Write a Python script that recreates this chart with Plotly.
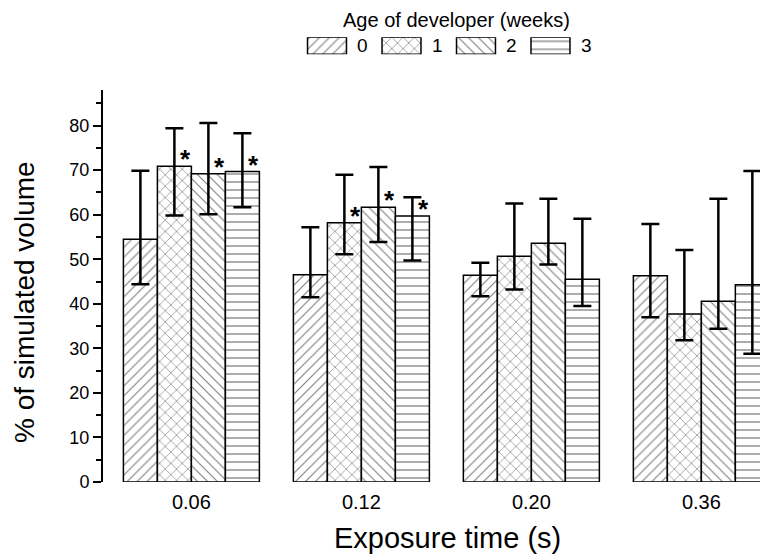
import plotly.graph_objects as go

# ---- data ----
exposure = ["0.06", "0.12", "0.20", "0.36"]
ages = ["0", "1", "2", "3"]
values = {
    "0": [54.5, 46.5, 46.4, 46.3],
    "1": [70.9, 58.2, 50.7, 37.7],
    "2": [69.2, 61.7, 53.6, 40.6],
    "3": [69.7, 59.7, 45.5, 44.3],
}
err_hi = {
    "0": [69.9, 57.2, 49.2, 57.9],
    "1": [79.4, 69.0, 62.5, 52.1],
    "2": [80.6, 70.7, 63.6, 63.6],
    "3": [78.3, 63.9, 59.1, 69.8],
}
err_lo = {
    "0": [44.4, 41.5, 41.7, 37.0],
    "1": [59.8, 51.1, 43.2, 31.8],
    "2": [60.1, 53.9, 48.8, 34.4],
    "3": [61.7, 49.7, 39.5, 28.8],
}
signif = {
    "0": [False, False, False, False],
    "1": [True, True, False, False],
    "2": [True, True, False, False],
    "3": [True, True, False, False],
}
patterns = {"0": "/", "1": "x", "2": "\\", "3": "-"}
psize = {"0": 7, "1": 8, "2": 7, "3": 8}
y_ticks = [0, 10, 20, 30, 40, 50, 60, 70, 80]

FONT = "Liberation Sans, Arial, sans-serif"
xpos = list(range(len(exposure)))
nser = len(ages)
bargap = 0.2
bw = (1 - bargap) / nser


def pat(a):
    return dict(shape=patterns[a], fgcolor="black", bgcolor="white",
                size=psize[a], solidity=0.16)


fig = go.Figure()
annotations = []
for j, a in enumerate(ages):
    v = values[a]
    fig.add_trace(go.Bar(
        x=xpos, y=v, name=a, showlegend=False,
        marker=dict(color="white", line=dict(color="black", width=1.5),
                    pattern=pat(a)),
        error_y=dict(type="data", symmetric=False,
                     array=[h - m for h, m in zip(err_hi[a], v)],
                     arrayminus=[m - l for m, l in zip(v, err_lo[a])],
                     color="black", thickness=2.5, width=9),
        xaxis="x", yaxis="y",
    ))
    for i, s in enumerate(signif[a]):
        if s:
            annotations.append(dict(
                x=i + (j - (nser - 1) / 2) * bw, y=v[i], xref="x", yref="y",
                text="<b>*</b>", showarrow=False, xshift=11, yshift=-10,
                font=dict(family=FONT, size=26, color="black"),
                xanchor="center", yanchor="bottom"))
    # legend swatch drawn as a bar on its own small axes
    fig.add_trace(go.Bar(
        x=[j], y=[1], width=0.523, showlegend=False, hoverinfo="skip",
        marker=dict(color="white", line=dict(color="black", width=1.5),
                    pattern=pat(a)),
        xaxis="x2", yaxis="y2",
    ))
    annotations.append(dict(
        x=j + 0.48, y=0.5, xref="x2", yref="y2", text=a, showarrow=False,
        font=dict(family=FONT, size=19, color="black"),
        xanchor="center", yanchor="middle"))

annotations.append(dict(
    x=0.5384, y=0.9585, xref="paper", yref="paper",
    text="Age of developer (weeks)", showarrow=False,
    font=dict(family=FONT, size=20, color="black"),
    xanchor="center", yanchor="middle"))
annotations.append(dict(
    x=-0.1202, y=0.3734, xref="paper", yref="paper",
    text="% of simulated volume", textangle=-90, showarrow=False,
    font=dict(family=FONT, size=28, color="black"),
    xanchor="center", yanchor="middle"))
annotations.append(dict(
    x=0.525, y=-0.116, xref="paper", yref="paper",
    text="Exposure time (s)", showarrow=False,
    font=dict(family=FONT, size=29, color="black"),
    xanchor="center", yanchor="middle"))

fig.update_layout(
    width=760, height=554,
    margin=dict(l=103, r=0, t=0, b=72),
    paper_bgcolor="white", plot_bgcolor="white",
    barmode="group", bargap=bargap, bargroupgap=0,
    font=dict(family=FONT, size=16, color="black"),
    xaxis=dict(range=[-0.52, 3.345], tickvals=xpos, ticktext=exposure,
               showline=False, showgrid=False, zeroline=False,
               ticks="outside", ticklen=2, tickcolor="rgba(0,0,0,0)",
               tickfont=dict(family=FONT, size=20), anchor="y"),
    yaxis=dict(range=[0, 88], domain=[0, 392 / 482], tickvals=y_ticks,
               showline=True, linecolor="black", linewidth=2,
               showgrid=False, zeroline=False,
               ticks="outside", ticklen=8, tickwidth=2, tickcolor="black",
               minor=dict(dtick=5, ticks="outside", ticklen=5, tickwidth=2,
                          tickcolor="black", showgrid=False),
               tickfont=dict(family=FONT, size=18), anchor="x"),
    xaxis2=dict(domain=[0.2846, 0.7412], range=[-0.497, 3.53], visible=False,
                anchor="y2"),
    yaxis2=dict(domain=[0.8873, 0.9226], range=[0, 1], visible=False,
                anchor="x2"),
    annotations=annotations,
)

fig.write_html("out.html")
